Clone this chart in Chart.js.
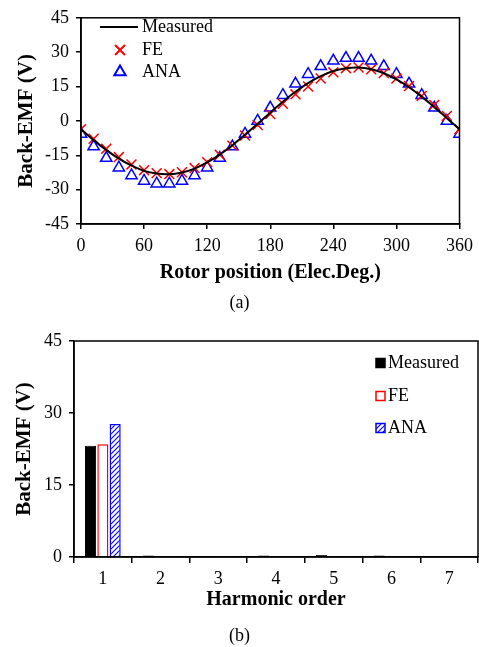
<!DOCTYPE html>
<html>
<head>
<meta charset="utf-8">
<script src="https://cdn.jsdelivr.net/npm/chart.js@4.4.0/dist/chart.umd.min.js"></script>
<style>
  body { margin: 0; background: #fff; width: 479px; height: 647px; position: relative; overflow: hidden; }
  .wrap { position: absolute; left: 0; width: 479px; }
  .cap { position: absolute; left: 0; width: 479px; text-align: center; font-family: "Liberation Serif", serif; font-size: 18px; line-height: 20px; color: #000; }
</style>
</head>
<body>
<div class="wrap" style="top:0;height:300px"><canvas id="emf-wave"></canvas></div>
<div class="cap" style="top:292px">(a)</div>
<div class="wrap" style="top:320px;height:300px"><canvas id="emf-harm"></canvas></div>
<div class="cap" style="top:625px">(b)</div>
<script>
// rotor position (elec. deg.)
const angles = [0, 12, 24, 36, 48, 60, 72, 84, 96, 108, 120, 132, 144, 156, 168, 180,
  192, 204, 216, 228, 240, 252, 264, 276, 288, 300, 312, 324, 336, 348, 360];
const measured = [-3.6, -8.4, -12.7, -16.5, -19.5, -21.8, -23.0, -23.3, -22.5, -20.8, -18.1, -14.7, -10.6, -6.0, -1.2, 3.6,
  8.4, 12.7, 16.5, 19.5, 21.8, 23.0, 23.3, 22.5, 20.8, 18.1, 14.7, 10.6, 6.0, 1.2, -3.6];
const fe = [-3.6, -7.8, -12.2, -15.8, -19.0, -21.5, -22.8, -23.2, -22.4, -20.6, -18.0, -14.8, -10.8, -6.4, -1.8, 3.0,
  7.5, 11.6, 15.0, 18.5, 21.2, 23.0, 23.3, 22.5, 20.9, 18.5, 15.2, 10.9, 7.0, 2.2, -3.6];
const ana = [-5.7, -11.2, -16.2, -20.4, -23.8, -26.2, -27.4, -27.4, -26.2, -23.8, -20.4, -16.2, -11.2, -5.7, 0, 5.7,
  11.2, 16.2, 20.4, 23.8, 26.2, 27.4, 27.4, 26.2, 23.8, 20.4, 16.2, 11.2, 5.7, 0, -5.7];

// harmonic spectrum
const harmonics = ['1', '2', '3', '4', '5', '6', '7'];
const harmMeasured = [23.2, 0.3, 0.2, 0.3, 0.4, 0.3, 0.2];
const harmFE = [23.5, 0.1, 0.1, 0.1, 0.1, 0.1, 0.1];
const harmANA = [27.7, 0.1, 0.1, 0.1, 0.1, 0.1, 0.1];

const serif = "'Liberation Serif', 'Times New Roman', serif";
Chart.defaults.font.family = serif;
Chart.defaults.color = '#000';
Chart.defaults.animation = false;

// box around the plot area
const frame = {
  id: 'frame',
  afterDraw(chart) {
    const { ctx, chartArea: a } = chart;
    ctx.save();
    ctx.strokeStyle = '#000';
    ctx.lineWidth = 1.5;
    ctx.strokeRect(a.left, a.top, a.right - a.left, a.bottom - a.top);
    ctx.restore();
  }
};

function toPoints(ys) {
  return angles.map((a, i) => ({ x: a, y: ys[i] }));
}

// legend for the waveform plot
const waveLegend = {
  id: 'waveLegend',
  afterDraw(chart) {
    const ctx = chart.ctx;
    const ds = chart.data.datasets;
    ctx.save();
    ctx.font = '18px ' + serif;
    ctx.textBaseline = 'middle';
    ctx.fillStyle = '#000';
    // Measured: line sample
    ctx.strokeStyle = ds[0].borderColor;
    ctx.lineWidth = 2;
    ctx.beginPath();
    ctx.moveTo(100, 27);
    ctx.lineTo(138, 27);
    ctx.stroke();
    ctx.fillText(ds[0].label, 142, 27);
    // markers
    [[ds[1], 50], [ds[2], 72]].forEach(([d, y]) => {
      ctx.strokeStyle = d.borderColor;
      ctx.fillStyle = 'rgba(0,0,0,0)';
      Chart.helpers.drawPoint(ctx, { pointStyle: d.pointStyle, radius: d.pointRadius, rotation: 0, borderWidth: d.borderWidth }, 120, y);
      ctx.fillStyle = '#000';
      ctx.fillText(d.label, 142, y);
    });
    ctx.restore();
  }
};

new Chart(document.getElementById('emf-wave'), {
  type: 'scatter',
  data: {
    datasets: [
      { label: 'Measured', data: toPoints(measured), showLine: true, borderColor: '#000', borderWidth: 2, pointRadius: 0, tension: 0.4, fill: false },
      { label: 'FE', data: toPoints(fe), borderColor: '#ff0000', backgroundColor: 'rgba(0,0,0,0)', pointStyle: 'crossRot', pointRadius: 7, borderWidth: 1.5 },
      { label: 'ANA', data: toPoints(ana), borderColor: '#0000ff', backgroundColor: 'rgba(0,0,0,0)', pointStyle: 'triangle', pointRadius: 6.5, borderWidth: 1.5 }
    ]
  },
  options: {
    responsive: true,
    maintainAspectRatio: false,
    layout: { padding: { top: 13, right: 19, left: 0, bottom: 0 } },
    plugins: { legend: { display: false }, tooltip: { enabled: false } },
    scales: {
      x: {
        type: 'linear', min: 0, max: 360,
        afterFit(s) { s.height = 76; },
        ticks: { stepSize: 60, font: { size: 18 }, padding: 6, maxRotation: 0 },
        grid: { drawOnChartArea: false, color: '#000', tickLength: 5, lineWidth: 1.5 },
        border: { color: '#000', width: 1.5 },
        title: { display: true, text: 'Rotor position (Elec.Deg.)', font: { size: 20, weight: 'bold' }, padding: { top: 0, bottom: 15 } }
      },
      y: {
        min: -45, max: 45,
        afterFit(s) { s.width = 81; },
        ticks: { stepSize: 15, font: { size: 18 }, padding: 7 },
        grid: { drawOnChartArea: false, color: '#000', tickLength: 5, lineWidth: 1.5 },
        border: { color: '#000', width: 1.5 },
        title: { display: true, text: 'Back-EMF (V)', font: { size: 21, weight: 'bold' }, padding: { top: 14, bottom: 0 } }
      }
    }
  },
  plugins: [frame, waveLegend]
});

// hatch fill for ANA bars
function hatch(color) {
  const c = document.createElement('canvas');
  c.width = 5; c.height = 5;
  const g = c.getContext('2d');
  g.fillStyle = '#fff';
  g.fillRect(0, 0, 5, 5);
  g.strokeStyle = color;
  g.lineWidth = 1.1;
  g.beginPath();
  g.moveTo(0, 5); g.lineTo(5, 0);
  g.moveTo(-1, 1); g.lineTo(1, -1);
  g.moveTo(4, 6); g.lineTo(6, 4);
  g.stroke();
  return g.createPattern(c, 'repeat');
}

// legend for the harmonic plot
const harmLegend = {
  id: 'harmLegend',
  afterDraw(chart) {
    const ctx = chart.ctx;
    const ds = chart.data.datasets;
    const rows = [43, 76, 108];
    ctx.save();
    ctx.font = '18px ' + serif;
    ctx.textBaseline = 'middle';
    ds.forEach((d, i) => {
      const y = rows[i];
      ctx.fillStyle = d.backgroundColor;
      ctx.fillRect(376, y - 4.5, 9, 9);
      ctx.strokeStyle = d.borderColor;
      ctx.lineWidth = 1.5;
      ctx.strokeRect(376, y - 4.5, 9, 9);
      ctx.fillStyle = '#000';
      ctx.fillText(d.label, 388, y);
    });
    ctx.restore();
  }
};

new Chart(document.getElementById('emf-harm'), {
  type: 'bar',
  data: {
    labels: harmonics,
    datasets: [
      { label: 'Measured', data: harmMeasured, backgroundColor: '#000', borderColor: '#000', borderWidth: 1 },
      { label: 'FE', data: harmFE, backgroundColor: '#fff', borderColor: '#ff0000', borderWidth: 1.5 },
      { label: 'ANA', data: harmANA, backgroundColor: hatch('#0000ff'), borderColor: '#0000ff', borderWidth: 1.5 }
    ]
  },
  options: {
    responsive: true,
    maintainAspectRatio: false,
    layout: { padding: { top: 21, right: 1, left: 0, bottom: 0 } },
    plugins: { legend: { display: false }, tooltip: { enabled: false } },
    datasets: { bar: { categoryPercentage: 0.64, barPercentage: 0.9 } },
    scales: {
      x: {
        afterFit(s) { s.height = 63; },
        ticks: { font: { size: 18 }, padding: 5 },
        grid: { drawOnChartArea: false, color: '#000', tickLength: 6, lineWidth: 1.5 },
        border: { color: '#000', width: 1.5 },
        title: { display: true, text: 'Harmonic order', font: { size: 20, weight: 'bold' }, padding: { top: 0, bottom: 8 } }
      },
      y: {
        min: 0, max: 45,
        afterFit(s) { s.width = 74; },
        ticks: { stepSize: 15, font: { size: 18 }, padding: 7 },
        grid: { drawOnChartArea: false, color: '#000', tickLength: 5, lineWidth: 1.5 },
        border: { color: '#000', width: 1.5 },
        title: { display: true, text: 'Back-EMF (V)', font: { size: 21, weight: 'bold' }, padding: { top: 12, bottom: 0 } }
      }
    }
  },
  plugins: [frame, harmLegend]
});
</script>
</body>
</html>
